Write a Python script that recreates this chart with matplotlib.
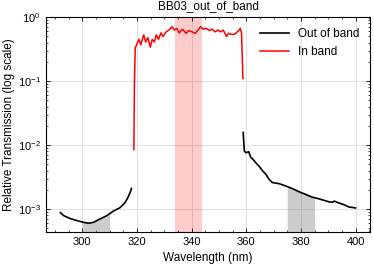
import numpy as np
import matplotlib
matplotlib.use("Agg")
import matplotlib.pyplot as plt
from matplotlib.ticker import AutoMinorLocator

# out of band, short side
wl_blue = [292.0, 293.2, 295.6, 298.1, 300.5, 302.3, 304.1, 306.5, 309.0,
           311.4, 313.8, 315.6, 316.8, 317.7, 318.0]
tr_blue = [0.00088, 0.00079, 0.00071, 0.00066, 0.00062, 0.00060, 0.00062,
           0.00070, 0.00079, 0.00093, 0.00105, 0.00125, 0.00154, 0.0019, 0.0021]

# in band
wl_in = [318.9, 319.1, 319.4, 320.1, 320.7, 321.4, 322.5, 323.2, 324.0, 324.9,
         325.6, 326.4, 327.1, 327.9, 328.8, 329.5, 330.7, 331.7, 332.9, 333.7,
         334.6, 335.5, 336.7, 338.0, 339.0, 340.2, 341.4, 342.6, 343.3, 344.3,
         345.3, 346.5, 347.5, 348.7, 349.6, 350.7, 351.6, 352.8, 353.5, 354.4,
         355.6, 356.4, 357.4, 357.8, 358.3, 358.8]
tr_in = [0.0085, 0.1, 0.33, 0.39, 0.45, 0.37, 0.53, 0.41, 0.48, 0.34,
         0.45, 0.41, 0.53, 0.45, 0.57, 0.50, 0.59, 0.63, 0.71, 0.63,
         0.67, 0.57, 0.65, 0.56, 0.62, 0.59, 0.56, 0.65, 0.71, 0.65,
         0.67, 0.62, 0.65, 0.59, 0.63, 0.59, 0.63, 0.50, 0.56, 0.54,
         0.54, 0.57, 0.63, 0.67, 0.56, 0.11]

# out of band, long side
wl_red = [358.9, 359.3, 359.9, 360.9, 361.7, 362.5, 363.5, 364.7, 365.9, 367.2,
          368.4, 369.6, 372.0, 374.4, 376.8, 379.3, 381.7, 384.1, 386.5, 389.0,
          390.2, 391.4, 392.3, 393.8, 395.6, 397.5, 399.5, 400.0]
tr_red = [0.0158, 0.0081, 0.0076, 0.0079, 0.0064, 0.0060, 0.0053, 0.0047, 0.0040, 0.0035,
          0.0029, 0.0026, 0.0025, 0.0023, 0.0021, 0.00187, 0.0017, 0.00154, 0.00145, 0.00135,
          0.0013, 0.00128, 0.00133, 0.00125, 0.00118, 0.00108, 0.00105, 0.00104]

band_lo, band_hi = 334, 344
blue_win = (300, 310)
red_win = (375, 385)

plt.rcParams['font.family'] = ['Liberation Sans', 'DejaVu Sans']
plt.rcParams['font.size'] = 8
plt.rcParams['xtick.direction'] = 'in'
plt.rcParams['ytick.direction'] = 'in'
plt.rcParams['xtick.top'] = True
plt.rcParams['ytick.right'] = True
plt.rcParams['xtick.minor.visible'] = True
plt.rcParams['ytick.minor.visible'] = True
plt.rcParams['xtick.major.size'] = 3
plt.rcParams['ytick.major.size'] = 3
plt.rcParams['xtick.minor.size'] = 1.5
plt.rcParams['ytick.minor.size'] = 1.5
plt.rcParams['axes.linewidth'] = 0.8
plt.rcParams['xtick.major.width'] = 0.6
plt.rcParams['ytick.major.width'] = 0.6
plt.rcParams['xtick.minor.width'] = 0.5
plt.rcParams['ytick.minor.width'] = 0.5

fig, ax = plt.subplots(figsize=(3.74, 2.65), dpi=100)
fig.subplots_adjust(left=0.122, right=0.99, top=0.935, bottom=0.125)

wb = np.array(wl_blue); tb = np.array(tr_blue)
wr = np.array(wl_red); tr = np.array(tr_red)

ax.plot(wb, tb, color='black', lw=1.2, label='Out of band')
ax.plot(wr, tr, color='black', lw=1.2)
ax.plot(wl_in, tr_in, color='red', lw=1.1, label='In band')

ax.axvspan(band_lo, band_hi, color='red', alpha=0.2, lw=0)

m = (wb >= blue_win[0]) & (wb <= blue_win[1])
xs = np.concatenate([[blue_win[0]], wb[m], [blue_win[1]]])
ys = np.interp(xs, wb, tb)
ax.fill_between(xs, 1e-5, ys, color='gray', alpha=0.4, lw=0)
m = (wr >= red_win[0]) & (wr <= red_win[1])
xs = np.concatenate([[red_win[0]], wr[m], [red_win[1]]])
ys = np.interp(xs, wr, tr)
ax.fill_between(xs, 1e-5, ys, color='gray', alpha=0.4, lw=0)

ax.set_yscale('log')
ax.set_ylim(4.4e-4, 1.0)
ax.set_xlim(286.6, 405.4)
ax.set_xticks([300, 320, 340, 360, 380, 400])
ax.xaxis.set_minor_locator(AutoMinorLocator(4))
ax.grid(True, which='major', color='#e0e0e0', lw=0.7)
ax.set_axisbelow(True)

ax.set_xlabel('Wavelength (nm)', fontsize=8.5)
ax.set_ylabel('Relative Transmission (log scale)', fontsize=8.5, labelpad=2)
ax.set_title('BB03_out_of_band', fontsize=8.5)
ax.legend(loc='upper right', frameon=False, fontsize=8.5, handlelength=2.4)

fig.savefig('out.png', dpi=100)
